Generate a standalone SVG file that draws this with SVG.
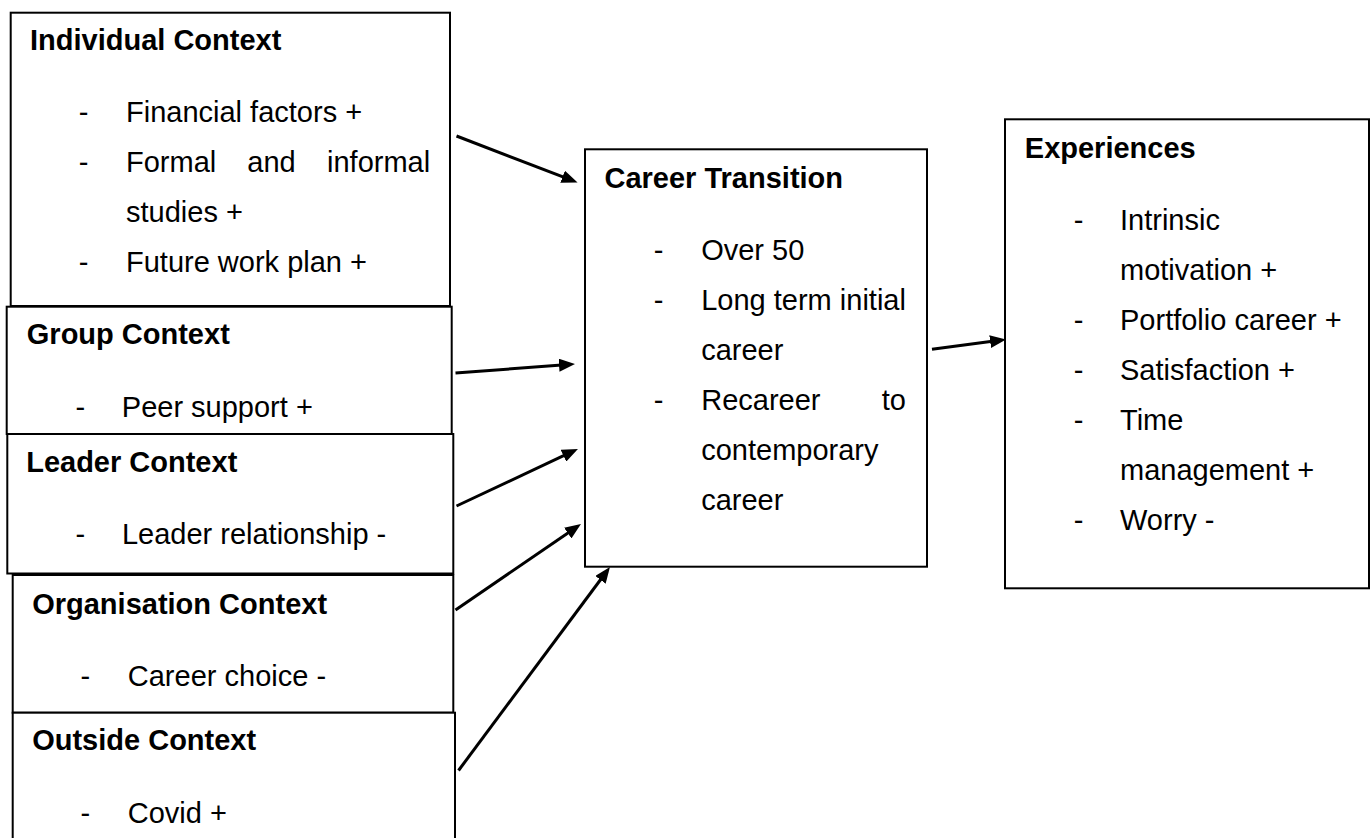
<svg xmlns="http://www.w3.org/2000/svg" width="1370" height="838" viewBox="0 0 1370 838">
  <style>
    .box { fill: #fff; stroke: #000; stroke-width: 2; }
    .t { font-family: "Liberation Sans", Arial, sans-serif; font-size: 29px; fill: #000; }
    .h { font-weight: bold; }
    .edge { stroke: #000; stroke-width: 3; fill: none; marker-end: url(#head); }
  </style>
  <defs>
    <!-- filled triangular arrowhead; the line stops inside it so the tip stays sharp -->
    <marker id="head" markerUnits="userSpaceOnUse" viewBox="0 0 16 13" markerWidth="16" markerHeight="13" refX="6" refY="6.5" orient="auto">
      <path d="M0,0 L16,6.5 L0,13 Z" fill="#000"/>
    </marker>
  </defs>
  <rect width="1370" height="838" fill="#fff"/>

  <g id="individual-context">
    <rect class="box" x="10.7" y="12.7" width="439.3" height="293.3"/>
    <text class="t h" x="30" y="50">Individual Context</text>
    <text class="t" x="78.7" y="122">-</text>
    <text class="t" x="126" y="122">Financial factors +</text>
    <text class="t" x="78.7" y="172">-</text>
    <text class="t" x="126" y="172">Formal</text>
    <text class="t" x="247.3" y="172">and</text>
    <text class="t" x="430.2" y="172" text-anchor="end">informal</text>
    <text class="t" x="126" y="222">studies +</text>
    <text class="t" x="78.7" y="272">-</text>
    <text class="t" x="126" y="272">Future work plan +</text>
  </g>

  <g id="group-context">
    <rect class="box" x="6.7" y="306.7" width="445" height="127.3"/>
    <text class="t h" x="26.8" y="344">Group Context</text>
    <text class="t" x="75.4" y="416.7">-</text>
    <text class="t" x="121.8" y="416.7">Peer support +</text>
  </g>

  <g id="leader-context">
    <rect class="box" x="7.3" y="434" width="446" height="139.5"/>
    <text class="t h" x="26.2" y="471.7">Leader Context</text>
    <text class="t" x="75.4" y="544">-</text>
    <text class="t" x="121.9" y="544">Leader relationship -</text>
  </g>

  <g id="organisation-context">
    <rect class="box" x="12.7" y="575" width="440.6" height="137.7"/>
    <text class="t h" x="32.2" y="614">Organisation Context</text>
    <text class="t" x="80.4" y="686">-</text>
    <text class="t" x="127.8" y="686">Career choice -</text>
  </g>

  <g id="outside-context">
    <rect class="box" x="12.7" y="712.7" width="442.3" height="140"/>
    <text class="t h" x="32.2" y="750">Outside Context</text>
    <text class="t" x="80.4" y="823.3">-</text>
    <text class="t" x="127.8" y="823.3">Covid +</text>
  </g>

  <g id="career-transition">
    <rect class="box" x="585" y="149.3" width="342" height="417.4"/>
    <text class="t h" x="604.5" y="188">Career Transition</text>
    <text class="t" x="653.7" y="260">-</text>
    <text class="t" x="701.2" y="260">Over 50</text>
    <text class="t" x="653.7" y="310">-</text>
    <text class="t" x="701.2" y="310">Long term initial</text>
    <text class="t" x="701.2" y="360">career</text>
    <text class="t" x="653.7" y="410">-</text>
    <text class="t" x="701.2" y="410">Recareer</text>
    <text class="t" x="906" y="410" text-anchor="end">to</text>
    <text class="t" x="701.2" y="460">contemporary</text>
    <text class="t" x="701.2" y="510">career</text>
  </g>

  <g id="experiences">
    <rect class="box" x="1005" y="119.3" width="364" height="469"/>
    <text class="t h" x="1024.8" y="157.8">Experiences</text>
    <text class="t" x="1073.7" y="229.8">-</text>
    <text class="t" x="1120" y="229.8">Intrinsic</text>
    <text class="t" x="1120" y="279.8">motivation +</text>
    <text class="t" x="1073.7" y="329.8">-</text>
    <text class="t" x="1120" y="329.8">Portfolio career +</text>
    <text class="t" x="1073.7" y="379.8">-</text>
    <text class="t" x="1120" y="379.8">Satisfaction +</text>
    <text class="t" x="1073.7" y="429.8">-</text>
    <text class="t" x="1120" y="429.8">Time</text>
    <text class="t" x="1120" y="479.8">management +</text>
    <text class="t" x="1073.7" y="529.8">-</text>
    <text class="t" x="1120" y="529.8">Worry -</text>
  </g>

  <g id="connectors">
    <line class="edge" x1="456.5" y1="136" x2="568.2" y2="178.9"/>
    <line class="edge" x1="455.5" y1="373" x2="565.0" y2="364.75"/>
    <line class="edge" x1="456.5" y1="506" x2="568.9" y2="453.2"/>
    <line class="edge" x1="455.5" y1="610" x2="572.7" y2="529.7"/>
    <line class="edge" x1="458.5" y1="770.5" x2="604.0" y2="575.0"/>
    <line class="edge" x1="932" y1="349.3" x2="996.1" y2="340.8"/>
  </g>
</svg>
